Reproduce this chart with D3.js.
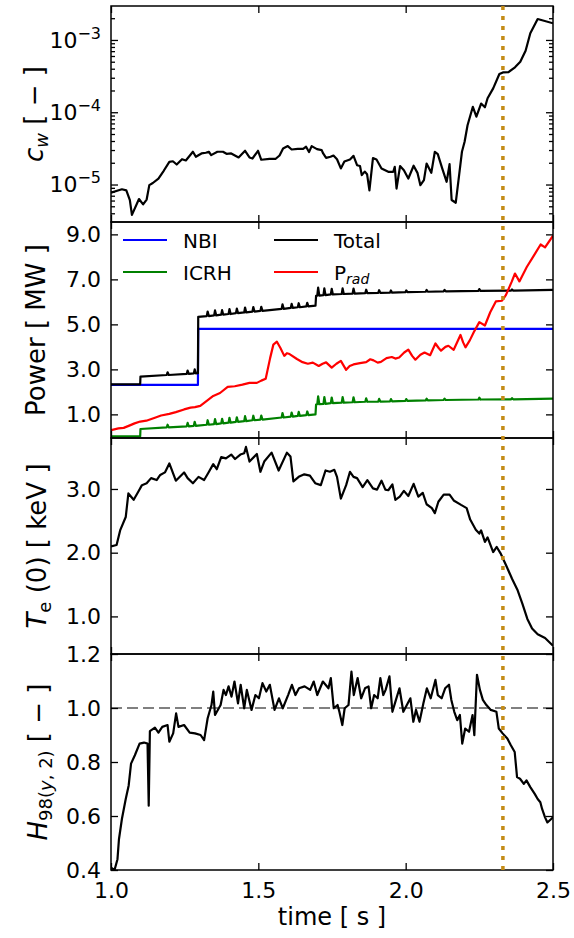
<!DOCTYPE html>
<html>
<head>
<meta charset="utf-8">
<script src="https://cdn.jsdelivr.net/npm/d3@7"></script>
<style>
  body { margin: 0; background: #fff; }
  svg { display: block; }
  text { font-family: "DejaVu Sans", sans-serif; fill: #000; }
</style>
</head>
<body>
<svg id="fig" width="574" height="938"></svg>
<script>
// ---- data -------------------------------------------------------------
const timeTicks = [1.0, 1.5, 2.0, 2.5];
const cwTicks = [1e-3, 1e-4, 1e-5];
const powerTicks = [1.0, 3.0, 5.0, 7.0, 9.0];
const teTicks = [1.0, 2.0, 3.0];
const hTicks = [0.4, 0.6, 0.8, 1.0, 1.2];
const markerTime = 2.33;
const hReference = 1.0;

const cwTime = [1.000,1.037,1.052,1.064,1.071,1.095,1.109,1.121,1.130,1.142,1.161,1.179,1.198,1.210,1.223,1.241,1.254,1.278,1.288,1.307,1.322,1.332,1.340,1.361,1.380,1.392,1.408,1.433,1.455,1.470,1.480,1.499,1.510,1.538,1.559,1.572,1.584,1.600,1.613,1.634,1.652,1.662,1.672,1.681,1.699,1.715,1.720,1.730,1.745,1.755,1.767,1.780,1.792,1.811,1.823,1.835,1.845,1.851,1.861,1.869,1.877,1.889,1.901,1.918,1.941,1.958,1.963,1.969,1.981,1.994,2.009,2.027,2.040,2.050,2.062,2.071,2.087,2.099,2.109,2.124,2.139,2.149,2.156,2.170,2.182,2.191,2.200,2.210,2.228,2.240,2.256,2.269,2.278,2.297,2.318,2.330,2.349,2.371,2.389,2.407,2.423,2.448,2.500];
const cwValue = [7.7e-6,8.6e-6,8.3e-6,6.1e-6,3.8e-6,6.3e-6,5.3e-6,6.2e-6,9.8e-6,1.05e-5,1.21e-5,1.55e-5,2.06e-5,2.1e-5,1.89e-5,2.24e-5,2.15e-5,2.84e-5,2.42e-5,2.69e-5,2.75e-5,2.84e-5,2.55e-5,2.84e-5,2.84e-5,2.66e-5,2.69e-5,2.37e-5,2.93e-5,2.37e-5,2.29e-5,2.93e-5,2.2e-5,2.27e-5,2.27e-5,2.52e-5,3.15e-5,3.4e-5,3.05e-5,3.12e-5,3.12e-5,3.33e-5,2.81e-5,3.4e-5,3.09e-5,2.99e-5,2.69e-5,2.34e-5,2.42e-5,2.52e-5,2.24e-5,1.67e-5,2.08e-5,2.22e-5,2.49e-5,1.85e-5,1.8e-5,1.35e-5,1.51e-5,1.39e-5,8.3e-6,2.32e-5,2.22e-5,1.67e-5,1.5e-5,1.5e-5,1.76e-5,8.8e-6,1.8e-5,1.58e-5,1.21e-5,1.82e-5,1.45e-5,9.8e-6,1.15e-5,1.95e-5,1.45e-5,2.84e-5,2.63e-5,1.67e-5,1.09e-5,1.91e-5,6.1e-6,5.6e-6,1.42e-5,2.84e-5,3.9e-5,6.6e-5,1.19e-4,8.7e-5,1.32e-4,1.17e-4,1.56e-4,2.14e-4,3.38e-4,3.56e-4,3.6e-4,4.18e-4,5.0e-4,7.1e-4,1.24e-3,1.95e-3,1.7e-3];

const nbiTime = [1.000, 1.295, 1.296, 2.500];
const nbiPower = [2.31, 2.31, 4.80, 4.80];

const icrhTime = [1.000,1.099,1.100,1.189,1.192,1.196,1.257,1.260,1.264,1.281,1.284,1.288,1.295,1.325,1.328,1.332,1.350,1.353,1.357,1.374,1.377,1.381,1.399,1.402,1.406,1.424,1.427,1.431,1.452,1.455,1.459,1.480,1.483,1.487,1.507,1.510,1.514,1.579,1.582,1.586,1.610,1.613,1.617,1.634,1.637,1.641,1.663,1.666,1.670,1.694,1.696,1.700,1.703,1.707,1.721,1.724,1.728,1.746,1.749,1.753,1.783,1.786,1.790,1.820,1.823,1.827,1.863,1.866,1.870,1.907,1.910,1.914,1.947,1.950,1.954,1.999,2.002,2.006,2.068,2.071,2.075,2.129,2.132,2.136,2.247,2.250,2.254,2.358,2.361,2.365,2.500];
const icrhPower = [0.02,0.02,0.35,0.42,0.54,0.42,0.47,0.62,0.47,0.49,0.67,0.49,0.50,0.54,0.74,0.54,0.57,0.79,0.57,0.60,0.80,0.60,0.63,0.85,0.63,0.67,0.87,0.67,0.70,0.92,0.70,0.74,0.94,0.74,0.77,0.95,0.77,0.86,1.06,0.86,0.90,1.08,0.90,0.93,1.11,0.93,0.97,1.13,0.97,1.00,1.44,1.45,1.80,1.45,1.47,1.77,1.47,1.50,1.75,1.50,1.52,1.77,1.52,1.54,1.76,1.54,1.56,1.71,1.56,1.57,1.69,1.57,1.58,1.68,1.58,1.60,1.68,1.60,1.62,1.70,1.62,1.64,1.70,1.64,1.66,1.74,1.66,1.67,1.72,1.67,1.70];

const totalTime = [1.000,1.099,1.100,1.189,1.192,1.196,1.257,1.260,1.264,1.281,1.284,1.288,1.295,1.296,1.325,1.328,1.332,1.350,1.353,1.357,1.374,1.377,1.381,1.399,1.402,1.406,1.424,1.427,1.431,1.452,1.455,1.459,1.480,1.483,1.487,1.507,1.510,1.514,1.579,1.582,1.586,1.610,1.613,1.617,1.634,1.637,1.641,1.663,1.666,1.670,1.694,1.696,1.700,1.703,1.707,1.721,1.724,1.728,1.746,1.749,1.753,1.783,1.786,1.790,1.820,1.823,1.827,1.863,1.866,1.870,1.907,1.910,1.914,1.947,1.950,1.954,1.999,2.002,2.006,2.068,2.071,2.075,2.129,2.132,2.136,2.247,2.250,2.254,2.358,2.361,2.365,2.500];
const totalPower = [2.33,2.33,2.68,2.75,2.87,2.75,2.80,2.95,2.80,2.82,3.00,2.82,2.83,5.33,5.37,5.57,5.37,5.40,5.62,5.40,5.43,5.63,5.43,5.46,5.68,5.46,5.50,5.70,5.50,5.53,5.75,5.53,5.57,5.77,5.57,5.60,5.78,5.60,5.69,5.89,5.69,5.73,5.91,5.73,5.76,5.94,5.76,5.80,5.96,5.80,5.83,6.27,6.28,6.63,6.28,6.30,6.60,6.30,6.33,6.58,6.33,6.35,6.60,6.35,6.37,6.59,6.37,6.39,6.54,6.39,6.40,6.52,6.40,6.41,6.51,6.41,6.43,6.51,6.43,6.45,6.53,6.45,6.47,6.53,6.47,6.49,6.57,6.49,6.50,6.55,6.50,6.53];

const pradTime = [1.000,1.025,1.043,1.062,1.080,1.099,1.120,1.149,1.170,1.198,1.220,1.248,1.270,1.285,1.303,1.325,1.347,1.370,1.396,1.420,1.446,1.470,1.495,1.510,1.525,1.540,1.551,1.563,1.575,1.588,1.597,1.606,1.631,1.650,1.668,1.685,1.705,1.718,1.730,1.749,1.765,1.780,1.798,1.810,1.823,1.845,1.866,1.880,1.891,1.905,1.916,1.935,1.953,1.965,1.978,1.995,2.009,2.022,2.033,2.050,2.064,2.083,2.101,2.112,2.120,2.135,2.145,2.163,2.186,2.195,2.203,2.218,2.231,2.250,2.269,2.287,2.306,2.327,2.340,2.360,2.371,2.386,2.411,2.436,2.458,2.473,2.500];
const pradPower = [0.30,0.38,0.40,0.50,0.60,0.68,0.72,0.85,0.95,1.02,1.10,1.22,1.30,1.32,1.38,1.60,1.82,1.95,2.22,2.25,2.32,2.40,2.40,2.50,2.58,3.50,4.10,4.23,3.95,3.60,3.72,3.68,3.46,3.32,3.25,3.30,3.15,3.25,3.31,3.08,3.25,3.38,2.98,3.15,3.22,3.28,3.32,3.45,3.40,3.30,3.33,3.50,3.55,3.48,3.53,3.75,3.88,3.60,3.43,3.65,3.75,3.63,4.15,3.95,3.83,4.00,4.05,3.87,4.53,4.20,3.98,4.30,4.65,5.10,4.95,5.54,6.02,6.05,6.30,6.90,7.26,6.91,7.55,8.08,8.55,8.42,8.94];

const teTime = [1.000,1.019,1.031,1.050,1.059,1.077,1.093,1.105,1.121,1.136,1.155,1.167,1.183,1.198,1.220,1.248,1.260,1.278,1.297,1.316,1.330,1.347,1.359,1.374,1.390,1.408,1.421,1.439,1.452,1.458,1.470,1.495,1.507,1.520,1.545,1.569,1.597,1.609,1.619,1.637,1.656,1.675,1.693,1.712,1.728,1.743,1.758,1.767,1.780,1.798,1.811,1.823,1.835,1.854,1.870,1.889,1.903,1.918,1.931,1.941,1.955,1.965,1.980,1.994,2.009,2.027,2.043,2.058,2.071,2.089,2.099,2.111,2.129,2.149,2.163,2.188,2.207,2.219,2.238,2.250,2.256,2.269,2.278,2.297,2.309,2.322,2.343,2.361,2.380,2.396,2.413,2.429,2.448,2.473,2.500];
const teValue = [2.10,2.12,2.35,2.56,2.93,2.83,2.96,3.06,3.09,3.17,3.14,3.22,3.26,3.40,3.13,3.26,3.17,3.09,3.19,3.14,3.25,3.39,3.31,3.50,3.48,3.54,3.47,3.54,3.56,3.66,3.43,3.55,3.27,3.43,3.57,3.29,3.57,3.51,3.12,3.19,3.23,3.21,3.09,3.06,3.29,3.27,3.30,3.19,2.85,3.06,3.27,3.19,3.17,3.03,3.14,3.01,2.99,3.13,2.99,2.98,3.07,2.83,2.88,2.97,2.89,3.08,2.88,2.94,2.76,2.70,2.62,2.80,2.91,2.91,2.82,2.75,2.70,2.52,2.36,2.30,2.35,2.17,2.24,2.01,2.09,1.99,1.78,1.59,1.41,1.20,0.96,0.81,0.72,0.66,0.54];

const hTime = [1.000,1.012,1.022,1.027,1.037,1.050,1.060,1.068,1.081,1.097,1.112,1.124,1.128,1.132,1.149,1.161,1.174,1.192,1.198,1.211,1.221,1.229,1.248,1.267,1.285,1.304,1.316,1.328,1.341,1.347,1.353,1.372,1.382,1.390,1.399,1.409,1.419,1.431,1.440,1.452,1.461,1.477,1.490,1.502,1.514,1.527,1.539,1.555,1.570,1.583,1.601,1.614,1.626,1.638,1.657,1.676,1.688,1.700,1.719,1.738,1.746,1.756,1.769,1.775,1.785,1.793,1.806,1.816,1.824,1.837,1.849,1.862,1.874,1.883,1.893,1.905,1.914,1.924,1.932,1.945,1.955,1.967,1.979,1.992,2.004,2.016,2.026,2.035,2.047,2.060,2.072,2.085,2.101,2.109,2.122,2.134,2.147,2.155,2.165,2.175,2.184,2.192,2.202,2.215,2.227,2.233,2.242,2.252,2.262,2.274,2.289,2.308,2.316,2.329,2.345,2.357,2.370,2.378,2.388,2.401,2.410,2.423,2.438,2.448,2.457,2.463,2.473,2.481,2.494,2.500];
const hValue = [0.409,0.400,0.440,0.514,0.589,0.663,0.713,0.794,0.825,0.868,0.872,0.868,0.638,0.914,0.927,0.909,0.930,0.937,0.875,0.906,0.980,0.930,0.937,0.909,0.906,0.900,0.881,0.962,1.011,1.061,0.974,1.011,1.067,1.048,1.080,1.042,1.098,1.017,1.086,0.999,1.067,0.993,1.048,1.036,1.092,1.061,1.086,0.993,1.036,0.999,1.048,1.086,1.048,1.073,1.080,1.067,1.098,1.048,1.098,1.073,1.111,0.999,1.011,0.986,0.937,0.999,1.011,1.135,1.048,1.111,1.036,1.073,1.080,0.999,1.048,1.036,1.111,1.048,1.067,1.117,0.986,1.030,1.073,0.986,1.011,1.036,0.949,0.993,0.949,1.017,1.073,1.036,1.104,1.048,1.036,1.073,1.086,1.030,0.986,0.955,0.974,0.868,0.924,0.912,0.974,0.899,1.123,1.067,1.030,1.011,0.993,0.986,0.924,0.906,0.887,0.862,0.837,0.744,0.738,0.719,0.732,0.707,0.682,0.663,0.651,0.626,0.595,0.576,0.589,0.595];

// ---- layout -----------------------------------------------------------
const svg = d3.select("#fig");
const L = 111, R = 553;
const TICK_FONT = 22, LABEL_FONT = 26;
const x = d3.scaleLinear().domain([1.0, 2.5]).range([L, R]);

const panels = [
  { top: 6,   bottom: 222, y: d3.scaleLog().domain([3.03e-6, 2.95e-3]), ticks: cwTicks, labelX: 43 },
  { top: 222, bottom: 438, y: d3.scaleLinear().domain([-0.05, 9.55]), ticks: powerTicks, labelX: 45 },
  { top: 438, bottom: 654, y: d3.scaleLinear().domain([0.41, 3.8]), ticks: teTicks, labelX: 46 },
  { top: 654, bottom: 870, y: d3.scaleLinear().domain([0.4, 1.2]), ticks: hTicks, labelX: 47 }
];
panels.forEach((p, i) => {
  p.y.range([p.bottom, p.top]);
  p.id = "clip" + i;
  svg.append("clipPath").attr("id", p.id)
    .append("rect").attr("x", L).attr("y", p.top).attr("width", R - L).attr("height", p.bottom - p.top);
});

const pts = (t, v) => d3.zip(t, v).map(([a, b]) => ({ t: a, v: b }));

function drawLine(p, data, color, width, dash) {
  const line = d3.line().x(d => x(d.t)).y(d => p.y(d.v));
  const path = svg.append("path")
    .datum(data)
    .attr("clip-path", `url(#${p.id})`)
    .attr("fill", "none")
    .attr("stroke", color)
    .attr("stroke-width", width)
    .attr("stroke-linejoin", "round")
    .attr("d", line);
  if (dash) path.attr("stroke-dasharray", dash);
  return path;
}

// ---- series ---------------------------------------------------------
const [p1, p2, p3, p4] = panels;
drawLine(p1, pts(cwTime, cwValue), "#000", 2.2);

drawLine(p2, pts(nbiTime, nbiPower), "#0000ff", 2.2);
drawLine(p2, pts(icrhTime, icrhPower), "#008000", 2.2);
drawLine(p2, pts(totalTime, totalPower), "#000", 2.2);
drawLine(p2, pts(pradTime, pradPower), "#ff0000", 2.2);

drawLine(p3, pts(teTime, teValue), "#000", 2.2);

svg.append("line")
  .attr("x1", L).attr("x2", R)
  .attr("y1", p4.y(hReference)).attr("y2", p4.y(hReference))
  .attr("stroke", "#808080").attr("stroke-width", 2).attr("stroke-dasharray", "11,5");
drawLine(p4, pts(hTime, hValue), "#000", 2.2);

// ---- axes -----------------------------------------------------------
function styleAxis(g) {
  g.select(".domain").remove();
  g.selectAll(".tick line").attr("stroke", "#000").attr("stroke-width", 1.3);
  g.attr("font-family", null).attr("font-size", null);
  g.selectAll("text").attr("font-size", TICK_FONT).attr("fill", "#000");
}

panels.forEach((p, i) => {
  const isLog = i === 0;
  const fmt = isLog ? (() => "") : d3.format(".1f");

  const left = svg.append("g").attr("transform", `translate(${L},0)`)
    .call(d3.axisLeft(p.y).tickValues(p.ticks).tickSize(-7).tickPadding(10).tickFormat(fmt));
  styleAxis(left);
  svg.append("g").attr("transform", `translate(${R},0)`)
    .call(d3.axisRight(p.y).tickValues(p.ticks).tickSize(-7).tickFormat(""))
    .call(styleAxis);

  if (isLog) {
    // power-of-ten labels with superscript exponents
    left.selectAll(".tick text").each(function (d) {
      const t = d3.select(this).text(null).attr("dy", "0.32em");
      t.append("tspan").text("10");
      t.append("tspan").attr("dy", -9).attr("font-size", 16)
        .text("\u2212" + Math.round(-Math.log10(d)));
    });
    const minor = [];
    for (let e = -6; e <= -3; e++)
      for (let m = 2; m <= 9; m++) {
        const v = m * Math.pow(10, e);
        const [lo, hi] = p.y.domain();
        if (v > lo && v < hi) minor.push(v);
      }
    svg.append("g").attr("transform", `translate(${L},0)`)
      .call(d3.axisLeft(p.y).tickValues(minor).tickSize(-4).tickFormat("")).call(styleAxis);
    svg.append("g").attr("transform", `translate(${R},0)`)
      .call(d3.axisRight(p.y).tickValues(minor).tickSize(-4).tickFormat("")).call(styleAxis);
  }

  const last = i === panels.length - 1;
  svg.append("g").attr("transform", `translate(0,${p.bottom})`)
    .call(d3.axisBottom(x).tickValues(timeTicks).tickSize(-7).tickPadding(12)
      .tickFormat(last ? d3.format(".1f") : ""))
    .call(styleAxis);
  svg.append("g").attr("transform", `translate(0,${p.top})`)
    .call(d3.axisTop(x).tickValues(timeTicks).tickSize(-7).tickFormat(""))
    .call(styleAxis);

  svg.append("rect")
    .attr("x", L).attr("y", p.top).attr("width", R - L).attr("height", p.bottom - p.top)
    .attr("fill", "none").attr("stroke", "#000").attr("stroke-width", 1.5);
});

// ---- axis labels ------------------------------------------------------
function yLabel(p, parts) {
  const cy = (p.top + p.bottom) / 2;
  const t = svg.append("text")
    .attr("transform", `translate(${p.labelX},${cy}) rotate(-90)`)
    .attr("text-anchor", "middle")
    .attr("font-size", LABEL_FONT);
  let shift = 0;
  parts.forEach(part => {
    const s = t.append("tspan").text(part.text);
    if (part.italic) s.attr("font-style", "italic");
    const target = part.sub ? 5 : 0;
    if (target !== shift) { s.attr("dy", target - shift); shift = target; }
    if (part.sub) s.attr("font-size", 18);
  });
}

yLabel(p1, [{ text: "c", italic: true }, { text: "w", italic: true, sub: true }, { text: " [ \u2212 ]" }]);
yLabel(p2, [{ text: "Power [ MW ]" }]);
yLabel(p3, [{ text: "T", italic: true }, { text: "e", sub: true }, { text: " (0) [ keV ]" }]);
yLabel(p4, [{ text: "H", italic: true }, { text: "98(", sub: true }, { text: "y", italic: true, sub: true },
            { text: ", 2)", sub: true }, { text: " [ \u2212 ]" }]);

svg.append("text")
  .attr("x", (L + R) / 2).attr("y", 925)
  .attr("text-anchor", "middle").attr("font-size", 24)
  .text("time [ s ]");

// ---- legend -------------------------------------------------------------
const legendItems = [
  { name: "NBI", color: "#0000ff", col: 0, row: 0 },
  { name: "ICRH", color: "#008000", col: 0, row: 1 },
  { name: "Total", color: "#000", col: 1, row: 0 },
  { name: "P", sub: "rad", color: "#ff0000", col: 1, row: 1 }
];
const legend = svg.append("g");
legendItems.forEach(it => {
  const lx = 123 + it.col * 151, ly = 240 + it.row * 32;
  legend.append("line").attr("x1", lx).attr("x2", lx + 44).attr("y1", ly).attr("y2", ly)
    .attr("stroke", it.color).attr("stroke-width", 2.2);
  const t = legend.append("text").attr("x", lx + 60).attr("y", ly + 8).attr("font-size", 20).text(it.name);
  if (it.sub) t.append("tspan").attr("font-style", "italic").attr("font-size", 14).attr("dy", 4).text(it.sub);
});

// ---- marker time across all panels --------------------------------------------
svg.append("line")
  .attr("x1", x(markerTime)).attr("x2", x(markerTime))
  .attr("y1", p1.top).attr("y2", p4.bottom)
  .attr("stroke", "#c38b16").attr("stroke-width", 3.5)
  .attr("stroke-dasharray", "4,6");
</script>
</body>
</html>
